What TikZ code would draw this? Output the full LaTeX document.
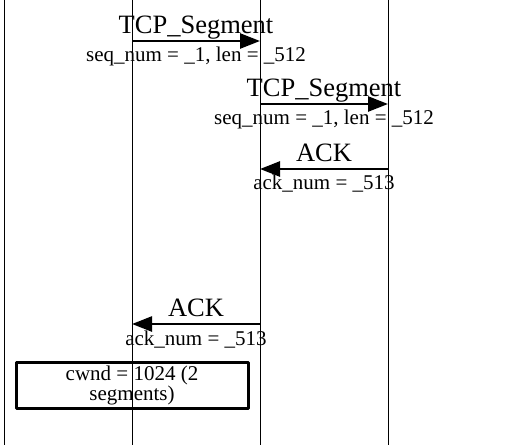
\documentclass[tikz,border=0pt]{standalone}
\usepackage{fontspec}
\setmainfont{Liberation Serif}
\usetikzlibrary{arrows.meta}
\begin{document}
\begin{tikzpicture}[x=1pt,y=-1pt,line join=round,
	life/.style={line width=1pt},
	msg/.style={line width=2.5pt,-{Triangle[length=20pt,width=15pt]}},
	lbl/.style={anchor=base,inner sep=0pt,font=\fontsize{26.5}{28}\selectfont},
	sublbl/.style={anchor=base,inner sep=0pt,font=\fontsize{21}{23}\selectfont},
	notebox/.style={draw,line width=3pt,minimum width=232pt,minimum height=46pt,
		align=center,inner sep=2pt,font=\fontsize{21}{20}\selectfont}]
			\useasboundingbox (0,0) rectangle (508,445);

			% 四条生命线
			\foreach \n/\x in {a/4,b/132,c/260,d/388}{
				\coordinate (\n top) at (\x,0);
				\coordinate (\n bot) at (\x,445);
				\draw[life] (\n top) -- (\n bot);
			}

			% 消息端点
			\coordinate (m1s) at (132,41);
			\coordinate (m1e) at (260,41);
			\coordinate (m2s) at (260,104);
			\coordinate (m2e) at (388,104);
			\coordinate (m3s) at (388,169);
			\coordinate (m3e) at (260,169);
			\coordinate (m4s) at (260,324);
			\coordinate (m4e) at (132,324);

			% 消息
			\draw[msg] (m1s) -- (m1e);
			\draw[msg] (m2s) -- (m2e);
			\draw[msg] (m3s) -- (m3e);
			\draw[msg] (m4s) -- (m4e);

			% 标注
			\node[lbl] (t1) at (196,33) {TCP\_Segment};
			\node[sublbl] (s1) at (196,61) {seq\_num = \_1, len = \_512};
			\node[lbl] (t2) at (324,96) {TCP\_Segment};
			\node[sublbl] (s2) at (324,124) {seq\_num = \_1, len = \_512};
			\node[lbl] (t3) at (324,161) {ACK};
			\node[sublbl] (s3) at (324,189) {ack\_num = \_513};
			\node[lbl] (t4) at (196,316) {ACK};
			\node[sublbl] (s4) at (196,345) {ack\_num = \_513};

			% 窗口说明
			\node[notebox] (cwnd) at (132,385) {cwnd = 1024 (2\\segments)};
		\end{tikzpicture}
\end{document}
